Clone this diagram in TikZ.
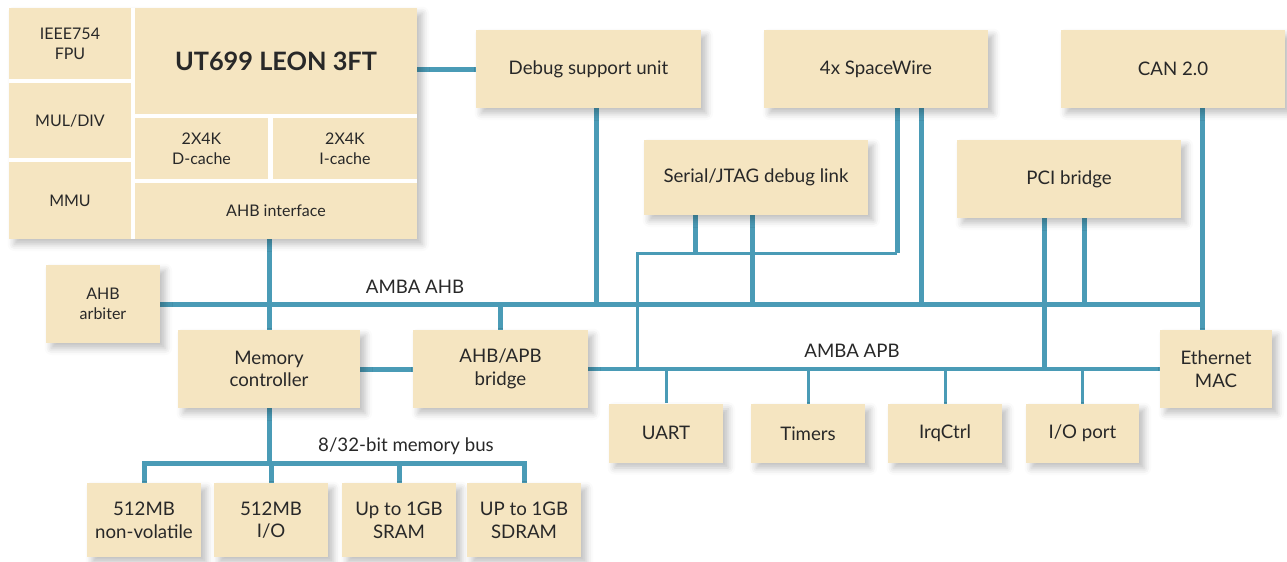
\documentclass[tikz,border=0pt]{standalone}
\usepackage{fontspec}
\setmainfont{Lato}
\usetikzlibrary{calc,shadows.blur}
\definecolor{boxfill}{RGB}{245,229,193}
\definecolor{busline}{RGB}{74,155,182}
\definecolor{boxtext}{RGB}{40,40,40}
\pgfdeclarelayer{background}
\pgfsetlayers{background,main}
\tikzset{
	softshadow/.style={blur shadow={shadow xshift=4pt, shadow yshift=-4pt, shadow blur radius=5pt, shadow opacity=25}},
	box/.style={fill=boxfill, text=boxtext, align=center, inner sep=0pt, font=\fontsize{14}{17}\selectfont, softshadow},
	part/.style={fill=boxfill, text=boxtext, align=center, inner sep=0pt, font=\fontsize{12}{15}\selectfont},
	dim/.style n args={2}{minimum width=#1*0.75pt, minimum height=#2*0.75pt},
	big/.style={box, dim={224}{78}},
	apbbox/.style={box, dim={114}{59}},
	membox/.style={box, dim={114}{74}},
	bus/.style={draw=busline, line width=3.75pt},
	apbbus/.style={draw=busline, line width=3pt},
	thinbus/.style={draw=busline, line width=2.25pt},
	buslabel/.style={text=boxtext, font=\fontsize{14}{17}\selectfont}
}
\begin{document}
\begin{tikzpicture}[x=0.75pt,y=-0.75pt]
	\useasboundingbox (0,0) rectangle (1287,561);
	\node (cpu) at (213,123.5)	[fill=white, inner sep=0pt, dim={408}{231}, softshadow]	{};
	\node (fpu) at (70,43.5)	[part, dim={122}{71}]	{IEEE754\\FPU};
	\node (muldiv) at (70,120.5)	[part, dim={122}{75}]	{MUL/DIV};
	\node (mmu) at (70,200.5)	[part, dim={122}{77}]	{MMU};
	\node (leon) at (276,61)	[part, dim={282}{106}, font=\bfseries\fontsize{19}{23}\selectfont]	{UT699 LEON 3FT};
	\node (dcache) at (201.5,148.5)	[part, dim={133}{61}]	{2X4K\\D-cache};
	\node (icache) at (345,148.5)	[part, dim={144}{61}]	{2X4K\\I-cache};
	\node (ahbif) at (276,211)	[part, dim={282}{56}]	{AHB interface};
	\node (dsu) at (588.5,69)	[big, dim={225}{78}]	{Debug support unit};
	\node (spw) at (876,69)	[big]	{4x SpaceWire};
	\node (can) at (1173,69)	[big]	{CAN 2.0};
	\node (jtag) at (756,177.5)	[big, dim={224}{75}]	{Serial/JTAG debug link};
	\node (pci) at (1069,179)	[big]	{PCI bridge};
	\node (arbiter) at (103,304)	[box, dim={114}{78}, font=\fontsize{12}{15}\selectfont]	{AHB\\arbiter};
	\node (memctrl) at (269,369)	[box, dim={182}{78}]	{Memory\\controller};
	\node (bridge) at (500.5,369)	[box, dim={175}{78}]	{AHB/APB\\bridge};
	\node (eth) at (1216,369)	[box, dim={112}{78}]	{Ethernet\\MAC};
	\node (uart) at (666,433)	[apbbox]	{UART};
	\node (timers) at (808,433.5)	[apbbox]	{Timers};
	\node (irq) at (945,433.5)	[apbbox]	{IrqCtrl};
	\node (io) at (1082.5,433.5)	[apbbox, dim={113}{59}]	{I/O port};
	\node (nv) at (144,520)	[membox]	{512MB\\non-volatile};
	\node (mio) at (271,520)	[membox]	{512MB\\I/O};
	\node (sram) at (399,520)	[membox]	{Up to 1GB\\SRAM};
	\node (sdram) at (524,520)	[membox]	{UP to 1GB\\SDRAM};
	\node (ahblabel) at (415,287)	[buslabel]	{AMBA AHB};
	\node (apblabel) at (852,351)	[buslabel]	{AMBA APB};
	\node (memlabel) at (406,446)	[buslabel]	{8/32-bit memory bus};
	\coordinate (ahb) at (0,304);
	\coordinate (apb) at (0,369);
	\coordinate (dbg) at (0,253);
	\coordinate (dbgL) at (637,253);
	\coordinate (mbus) at (0,463);
	\begin{pgfonlayer}{background}
	\draw[bus] (dsu.west -| cpu.east) -- (dsu.west);
	\draw[bus] ($(can.south)+(29,0)$) coordinate (c1) -- (c1 |- eth.north);
	\draw[bus] (arbiter.east) -- (arbiter.east -| c1);
	\draw[bus] ($(dsu.south)+(8,0)$) coordinate (d1) -- (d1 |- ahb);
	\draw[bus] ($(spw.south)+(45,0)$) coordinate (s3) -- (s3 |- ahb);
	\draw[bus] ($(spw.south)+(21,0)$) coordinate (s1) -- (s1 |- dbg) coordinate (s2);
	\draw[thinbus] (s2) -- (dbgL) -- (dbgL |- apb);
	\draw[bus] ($(jtag.south)+(-61,0)$) coordinate (j1) -- (j1 |- dbg);
	\draw[bus] ($(jtag.south)+(-4,0)$) coordinate (j2) -- (j2 |- ahb);
	\draw[bus] ($(pci.south)+(-25,0)$) coordinate (p1) -- (p1 |- apb);
	\draw[bus] ($(pci.south)+(15,0)$) coordinate (p2) -- (p2 |- ahb);
	\draw[bus] (memctrl.north) -- (memctrl.north |- cpu.south);
	\draw[bus] (bridge.north) -- (bridge.north |- ahb);
	\draw[bus] (memctrl.east) -- (bridge.west);
	\draw[apbbus] (bridge.east) -- (eth.west);
	\foreach \n in {uart,timers,irq,io}
		\draw[thinbus] (\n.north) -- (\n.north |- apb);
	\draw[bus] (memctrl.south) -- (memctrl.south |- mbus);
	\draw[bus] (nv.north) -- (nv.north |- mbus) -- (sdram.north |- mbus) -- (sdram.north);
	\foreach \n in {mio,sram}
		\draw[bus] (\n.north) -- (\n.north |- mbus);
	\end{pgfonlayer}
\end{tikzpicture}
\end{document}
